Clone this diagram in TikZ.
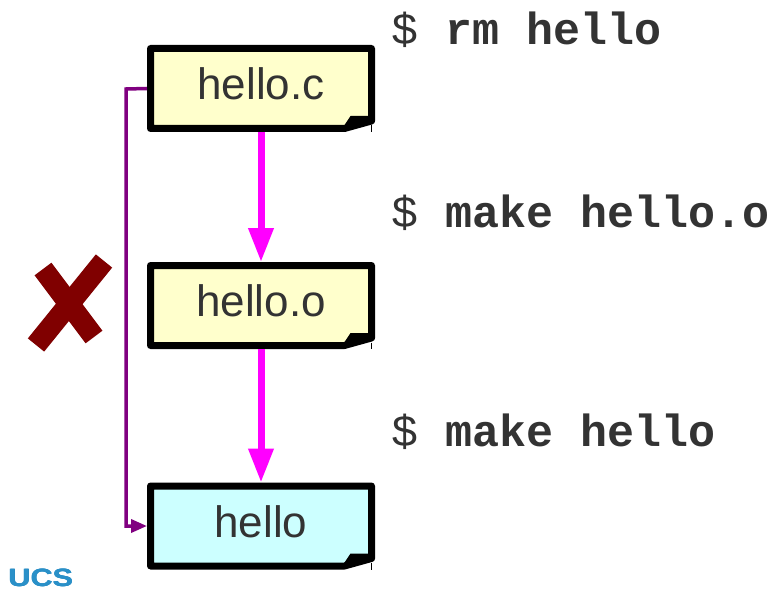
\documentclass[tikz,border=0pt]{standalone}
\usepackage{fontspec}
\setmainfont{Liberation Sans}
\newfontfamily\cmdfont{Liberation Mono}
\usetikzlibrary{arrows.meta}
\definecolor{txtgray}{HTML}{333333}
\definecolor{docyellow}{HTML}{FFFFCC}
\definecolor{doccyan}{HTML}{CCFFFF}
\definecolor{flowmag}{HTML}{FF00FF}
\definecolor{linkpurple}{HTML}{800080}
\definecolor{crossred}{HTML}{800000}
\definecolor{ucsblue}{HTML}{2A90C8}
\definecolor{ucsdark}{HTML}{1C7EB8}
\tikzset{
  docnode/.style={minimum width=221pt, minimum height=80pt, inner sep=0pt, outer sep=0pt,
    text=txtgray, font=\fontsize{44}{44}\selectfont, text height=32pt, text depth=10pt},
  docline/.style={line width=7pt, line join=round, draw=black},
  cmdtext/.style={anchor=base west, inner sep=0pt, text=txtgray, font=\cmdfont\fontsize{45}{45}\selectfont},
  flowarrow/.style={draw=flowmag, line width=7pt, -{Triangle[width=24pt,length=34pt]}},
  linkarrow/.style={draw=linkpurple, line width=3.5pt, -{Triangle[width=13pt,length=16pt]}},
  crossstroke/.style={draw=crossred, line width=21pt, line cap=butt},
  logotext/.style={anchor=base west, inner sep=0pt, font=\bfseries\fontsize{25}{25}\selectfont, xscale=1.22}
}
\newcommand{\docshape}[2]{%
  \filldraw[docline, fill=#2] (#1.north west) -- (#1.north east) -- ([yshift=7.5pt]#1.south east)
    -- ([xshift=-27pt]#1.south east) -- (#1.south west) -- cycle;
  \fill[black] ([xshift=-28pt,yshift=2pt]#1.south east) -- ([xshift=-21pt,yshift=12.5pt]#1.south east)
    -- ([yshift=12.5pt]#1.south east) -- ([yshift=7.5pt]#1.south east) -- cycle;
  \draw[line width=1pt, black] ([yshift=3pt]#1.south east) -- ([yshift=-3.5pt]#1.south east);
}
\begin{document}
\begin{tikzpicture}[x=1pt, y=-1pt]
\useasboundingbox[fill=white] (0,0) rectangle (776,596);
% boxes (geometry only for naming)
\node[docnode] (hc) at (261,88.5) {};
\node[docnode] (ho) at (261,305.5) {};
\node[docnode] (hx) at (261,526) {};
\docshape{hc}{docyellow}
\docshape{ho}{docyellow}
\docshape{hx}{doccyan}
\node[docnode] at (hc) {hello.c};
\node[docnode] at (ho) {hello.o};
\node[docnode] at (hx) {hello};
% flow arrows
\draw[flowarrow] ([yshift=-3.5pt]hc.south) -- ([yshift=3.5pt]ho.north);
\draw[flowarrow] ([yshift=-3.5pt]ho.south) -- ([yshift=3.5pt]hx.north);
% purple link
\coordinate (lk) at (126,89);
\draw[linkarrow] ([xshift=-3.5pt]hc.west) -- (lk) |- ([xshift=-3.5pt]hx.west);
% cross
\draw[crossstroke] (43,269) -- (94,337);
\draw[crossstroke] (104,261) -- (36,345);
% commands
\node[cmdtext] (c1) at (391,45) {\$ \textbf{rm hello}};
\node[cmdtext] (c2) at (391,227) {\$ \textbf{make hello.o}};
\node[cmdtext] (c3) at (391,446) {\$ \textbf{make hello}};
% logo (drawn with slight offsets for a heavier weight)
\node[logotext, text=ucsdark] at (8.6,586.4) {UCS};
\node[logotext, text=ucsblue] at (8,586) {UCS};
\node[logotext, text=ucsblue] (ucs) at (8.5,586) {UCS};
\end{tikzpicture}
\end{document}
